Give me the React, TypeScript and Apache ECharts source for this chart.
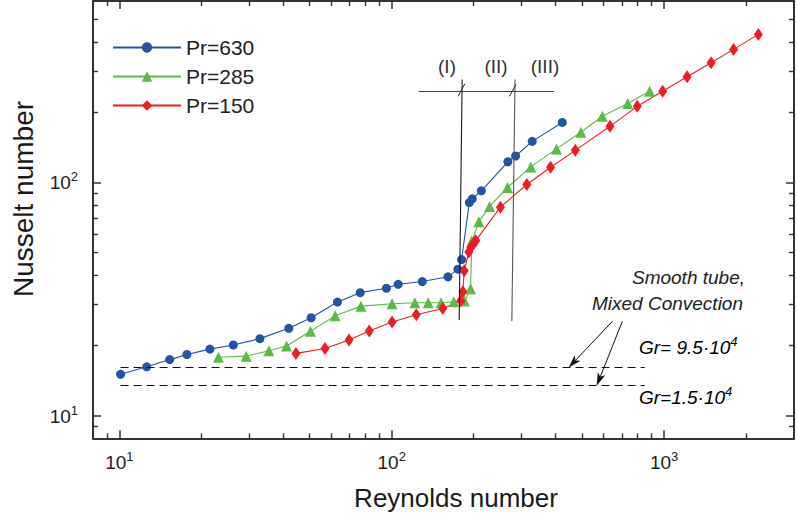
import React, { useEffect, useRef } from "react";
import * as echarts from "echarts";

const FONT = "'Liberation Sans', Arial, Helvetica, sans-serif";

const seriesNames = ["Pr=630", "Pr=285", "Pr=150"];
const seriesColors = ["#2254a3", "#5cbb46", "#ee1c25"];

const re630 = [10.1, 12.6, 15.3, 17.7, 21.5, 26.2, 32.8, 41.9, 50.6, 63.2, 76.6, 95.6, 105.6, 129.5, 160.9, 175, 180.5, 192.7, 197.6, 213.3, 267, 285, 328, 423];
const nu630 = [15.05, 16.2, 17.4, 18.3, 19.3, 20.1, 21.4, 23.7, 26.3, 30.7, 33.7, 35.2, 36.6, 37.6, 39.4, 42.5, 46.7, 82.0, 85.1, 92.1, 122.7, 129.9, 150.1, 180.9];

const re285 = [23.1, 29.2, 35.4, 41.1, 50.3, 62.0, 77.1, 100.3, 121.6, 136.2, 151.8, 169, 185, 194.8, 196.8, 208.9, 228.7, 266.3, 324.1, 402.8, 494.9, 593.3, 735.6, 884.5];
const nu285 = [17.8, 18.0, 19.0, 19.9, 23.0, 26.8, 29.5, 30.2, 30.5, 30.5, 30.5, 30.8, 31.0, 35.0, 56.1, 67.8, 78.9, 95.2, 116.6, 139.3, 164.1, 192.2, 217.9, 246.1];

const re150 = [44.5, 56.9, 69.7, 82.7, 100.3, 123.1, 154, 179.4, 182.4, 184.5, 191.9, 195.1, 200.6, 203.4, 250.7, 313.4, 383.1, 472.3, 632.9, 797.3, 988.3, 1215, 1489, 1800, 2220];
const nu150 = [18.5, 19.4, 21.1, 23.1, 25.2, 27.1, 28.8, 31.1, 34.0, 41.8, 50.4, 52.6, 55.2, 56.3, 78.4, 98.0, 116.2, 137.3, 174.1, 212.1, 246.1, 283.9, 326.1, 372.1, 431.5];

// axis ranges
const xRange = [8, 3000];
const yRange = [8, 600];

// Smooth tube, mixed convection reference levels (Nu) and their Re extent
const smoothTubeNu = [16.09, 13.46];
const smoothTubeRe = [10.1, 850];

// region separators (Re, Nu)
const sep1 = [[181.4, 276.5], [176.9, 25.7]];
const sep2 = [[283.6, 276.5], [276.1, 25.4]];
const sepBar = [[125.6, 247.2], [393.8, 247.2]];
const slash1 = [[175.4, 234.2], [185.5, 264.9]];
const slash2 = [[270.3, 234.2], [285.9, 263.0]];
// arrows: [Re start, Nu start, Re tip, Nu tip]
const arrows = [
  [646.9, 25.43, 446.5, 16.09],
  [703.3, 25.43, 565.7, 13.43],
];

function zip(a: number[], b: number[]) {
  return a.map((v, i) => [v, b[i]]);
}

function powLabel(value: number) {
  const l = Math.log10(value);
  const e = Math.round(l);
  if (Math.abs(l - e) < 1e-6) return `{b|10}{s|${e}}`;
  return "";
}

const labelRich = {
  b: { fontSize: 19, fontFamily: FONT, color: "#222", verticalAlign: "bottom", lineHeight: 20 },
  s: { fontSize: 13, fontFamily: FONT, color: "#222", verticalAlign: "bottom", lineHeight: 20, padding: [0, 0, 9, 0] },
};

const grRich = {
  i: { fontSize: 19, fontStyle: "italic", fontFamily: FONT, color: "#222", verticalAlign: "bottom", lineHeight: 20 },
  s: { fontSize: 13, fontStyle: "italic", fontFamily: FONT, color: "#222", verticalAlign: "bottom", lineHeight: 20, padding: [0, 0, 9, 0] },
};

export default function App() {
  const ref = useRef<HTMLDivElement>(null);
  useEffect(() => {
    if (!ref.current) return;
    const chart = echarts.init(ref.current, undefined, { renderer: "svg" });
    const axisLine = { show: true, lineStyle: { color: "#333", width: 2 } };
    const axisTick = { show: true, inside: true, length: 8, lineStyle: { color: "#333", width: 1.5 } };
    const minorTick = { show: true, splitNumber: 9, length: 5, lineStyle: { color: "#333", width: 1.4 } };
    const seg = (p: number[][], style: any) => [
      { coord: p[0], lineStyle: style },
      { coord: p[1] },
    ];
    const arrowRender = (params: any, api: any) => {
      const a = api.coord([api.value(0), api.value(1)]);
      const b = api.coord([api.value(2), api.value(3)]);
      const dx = b[0] - a[0];
      const dy = b[1] - a[1];
      const len = Math.sqrt(dx * dx + dy * dy);
      const ux = dx / len;
      const uy = dy / len;
      const hl = 13;
      const hw = 4;
      const base = [b[0] - ux * hl, b[1] - uy * hl];
      const notch = [b[0] - ux * hl * 0.75, b[1] - uy * hl * 0.75];
      return {
        type: "group",
        children: [
          { type: "line", shape: { x1: a[0], y1: a[1], x2: notch[0], y2: notch[1] }, style: { stroke: "#111", lineWidth: 1 } },
          {
            type: "polygon",
            shape: {
              points: [
                b,
                [base[0] - uy * hw, base[1] + ux * hw],
                notch,
                [base[0] + uy * hw, base[1] - ux * hw],
              ],
            },
            style: { fill: "#111" },
          },
        ],
      };
    };
    const dashed = { color: "#111", width: 1, type: [8, 5] };
    const common = { axisLine, axisTick, minorTick, splitLine: { show: false }, minorSplitLine: { show: false } };
    chart.setOption({
      animation: false,
      backgroundColor: "#fff",
      grid: { left: 93, top: 1, width: 709.8, height: 437.3, containLabel: false },
      legend: {
        data: seriesNames,
        orient: "vertical",
        left: 112,
        top: 37,
        padding: 0,
        itemWidth: 68,
        itemHeight: 13,
        itemGap: 8,
        textStyle: { fontSize: 21, color: "#222", fontFamily: FONT },
      },
      xAxis: [
        {
          type: "log", logBase: 10, min: xRange[0], max: xRange[1], position: "bottom", ...common,
          axisLabel: { formatter: powLabel, rich: labelRich, margin: 14 },
        },
        {
          type: "log", logBase: 10, min: xRange[0], max: xRange[1], position: "top", ...common,
          axisLabel: { show: false },
        },
      ],
      yAxis: [
        {
          type: "log", logBase: 10, min: yRange[0], max: yRange[1], position: "left", ...common,
          axisLabel: { formatter: powLabel, rich: labelRich, margin: 15 },
        },
        {
          type: "log", logBase: 10, min: yRange[0], max: yRange[1], position: "right", ...common,
          axisLabel: { show: false },
        },
      ],
      series: [
        {
          name: "annot", type: "line", data: [], silent: true,
          markLine: {
            silent: true, symbol: ["none", "none"], label: { show: false },
            data: [
              ...smoothTubeNu.map((nu) => [
                { coord: [smoothTubeRe[0], nu], lineStyle: dashed },
                { coord: [smoothTubeRe[1], nu] },
              ]),
              seg(sep1, { color: "#1a1a1a", width: 1.1, type: "solid" }),
              seg(sep2, { color: "#555", width: 1.1, type: "solid" }),
              seg(sepBar, { color: "#444", width: 1.1, type: "solid" }),
              seg(slash1, { color: "#222", width: 1, type: "solid" }),
              seg(slash2, { color: "#222", width: 1, type: "solid" }),
            ],
          },
        },
        {
          name: "arrows", type: "custom", silent: true, clip: false,
          data: arrows,
          renderItem: arrowRender,
        },
        {
          name: seriesNames[0], type: "line", data: zip(re630, nu630), symbol: "circle", symbolSize: 9,
          itemStyle: { color: seriesColors[0] }, lineStyle: { color: seriesColors[0], width: 1.1 },
        },
        {
          name: seriesNames[1], type: "line", data: zip(re285, nu285), symbol: "triangle", symbolSize: 11,
          itemStyle: { color: seriesColors[1] }, lineStyle: { color: seriesColors[1], width: 1.1 },
        },
        {
          name: seriesNames[2], type: "line", data: zip(re150, nu150), symbol: "diamond", symbolSize: [9, 13],
          itemStyle: { color: seriesColors[2] }, lineStyle: { color: seriesColors[2], width: 1.1 },
        },
      ],
      graphic: [
        { type: "text", x: 456, y: 498, style: { text: "Reynolds number", fontSize: 26, fontFamily: FONT, fill: "#1a1a1a", align: "center", verticalAlign: "middle" } },
        { type: "text", x: 23, y: 199, rotation: Math.PI / 2, style: { text: "Nusselt number", fontSize: 28, fontFamily: FONT, fill: "#1a1a1a", align: "center", verticalAlign: "middle" } },
        { type: "text", x: 447, y: 66, style: { text: "(I)", fontSize: 19, fontFamily: FONT, fill: "#333", align: "center", verticalAlign: "middle" } },
        { type: "text", x: 496, y: 66, style: { text: "(II)", fontSize: 19, fontFamily: FONT, fill: "#333", align: "center", verticalAlign: "middle" } },
        { type: "text", x: 545, y: 66, style: { text: "(III)", fontSize: 19, fontFamily: FONT, fill: "#333", align: "center", verticalAlign: "middle" } },
        { type: "text", x: 745, y: 277, style: { text: "Smooth tube,", fontSize: 19, fontStyle: "italic", fontFamily: FONT, fill: "#222", align: "right", verticalAlign: "middle" } },
        { type: "text", x: 743, y: 303, style: { text: "Mixed Convection", fontSize: 19, fontStyle: "italic", fontFamily: FONT, fill: "#222", align: "right", verticalAlign: "middle" } },
        { type: "text", x: 639, y: 347, style: { text: "{i|Gr= 9.5·10}{s|4}", align: "left", verticalAlign: "middle", rich: grRich } },
        { type: "text", x: 639, y: 397, style: { text: "{i|Gr=1.5·10}{s|4}", align: "left", verticalAlign: "middle", rich: grRich } },
      ],
    });
    return () => chart.dispose();
  }, []);
  return (
    <div
      ref={ref}
      style={{ position: "fixed", left: 0, top: 0, width: 797, height: 519, background: "#fff" }}
    />
  );
}
